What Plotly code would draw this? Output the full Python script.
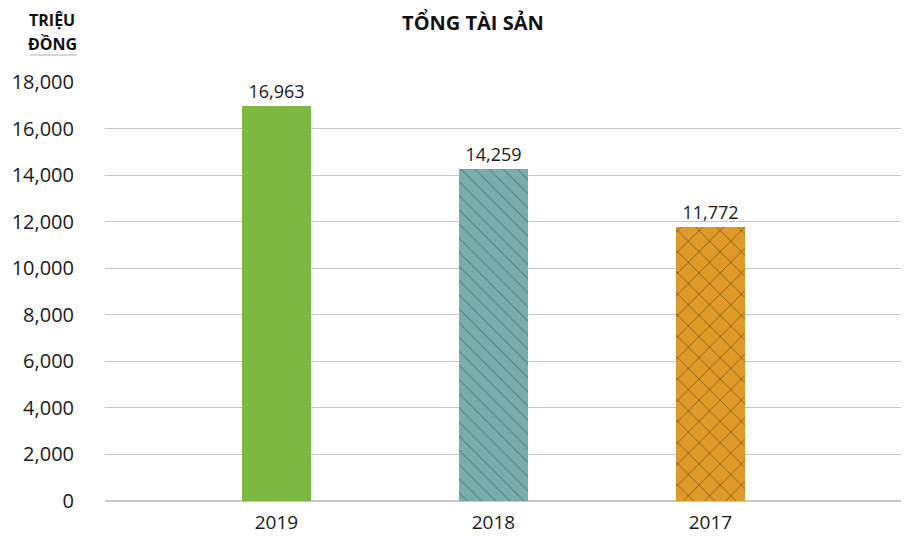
import plotly.graph_objects as go

categories = ["2019", "2018", "2017"]
values = [16963, 14259, 11772]
value_labels = ["16,963", "14,259", "11,772"]
tick_vals = [0, 2000, 4000, 6000, 8000, 10000, 12000, 14000, 16000, 18000]
tick_text = ["0", "2,000", "4,000", "6,000", "8,000", "10,000", "12,000", "14,000", "16,000", "18,000"]

FONT = "Open Sans"
W = 0.32

fig = go.Figure()
# 2019 solid green
fig.add_trace(go.Bar(
    x=[categories[0]], y=[values[0]], width=W,
    marker=dict(color="#7DB940", line=dict(width=0)),
    text=[value_labels[0]], textposition="outside",
    cliponaxis=False, showlegend=False,
))
# 2018 teal, dotted diagonal pattern
fig.add_trace(go.Bar(
    x=[categories[1]], y=[values[1]], width=W,
    marker=dict(color="#7AADAD", line=dict(width=0),
                pattern=dict(shape="\\", fgcolor="#2a4848", bgcolor="#7AADAD",
                             size=10, solidity=0.1, fillmode="overlay")),
    text=[value_labels[1]], textposition="outside",
    cliponaxis=False, showlegend=False,
))
# 2017 orange, dashes pattern
fig.add_trace(go.Bar(
    x=[categories[2]], y=[values[2]], width=W,
    marker=dict(color="#E09A27", line=dict(width=0),
                pattern=dict(shape="x", fgcolor="#111111", bgcolor="#E09A27",
                             size=15, solidity=0.1, fillmode="overlay")),
    text=[value_labels[2]], textposition="outside",
    cliponaxis=False, showlegend=False,
))

fig.update_traces(textfont=dict(family=FONT, size=18, color="#1a1a1a"))

fig.update_layout(
    width=901, height=528,
    margin=dict(l=97, r=0, t=74, b=35),
    paper_bgcolor="white", plot_bgcolor="white",
    font=dict(family=FONT, color="#1a1a1a"),
    bargap=0,
    title=dict(text="<b>TỔNG TÀI SẢN</b>", x=0.516, xanchor="center",
               y=0.972, yanchor="middle",
               font=dict(family=FONT, size=20, color="#111111")),
    xaxis=dict(
        type="category", range=[-0.79, 2.915],
        showgrid=False, zeroline=False, showline=False,
        ticks="", ticklabelstandoff=8,
        tickfont=dict(family=FONT, size=19, color="#1a1a1a"),
    ),
    yaxis=dict(
        range=[0, 18000], tickvals=tick_vals, ticktext=tick_text,
        showgrid=True, gridcolor="#c8c8c8", gridwidth=1,
        zeroline=True, zerolinecolor="#c8c8c8", zerolinewidth=1.5,
        showline=False, ticks="", ticklabelstandoff=30,
        tickfont=dict(family=FONT, size=20, color="#1a1a1a"),
    ),
    annotations=[
        dict(text="<b>TRIỆU</b>", xref="paper", yref="paper",
             x=-0.0659, y=1.148, xanchor="center", yanchor="middle", showarrow=False,
             font=dict(family=FONT, size=16, color="#111111")),
        dict(text="<b>ĐỒNG</b>", xref="paper", yref="paper",
             x=-0.0659, y=1.0907, xanchor="center", yanchor="middle", showarrow=False,
             font=dict(family=FONT, size=16, color="#111111")),
    ],
    shapes=[
        dict(type="line", xref="paper", yref="paper", x0=-0.0933, x1=-0.0348,
             y0=1.0644, y1=1.0644, line=dict(color="#b0b0b0", width=1)),
    ],
)

fig.write_html("out.html")
